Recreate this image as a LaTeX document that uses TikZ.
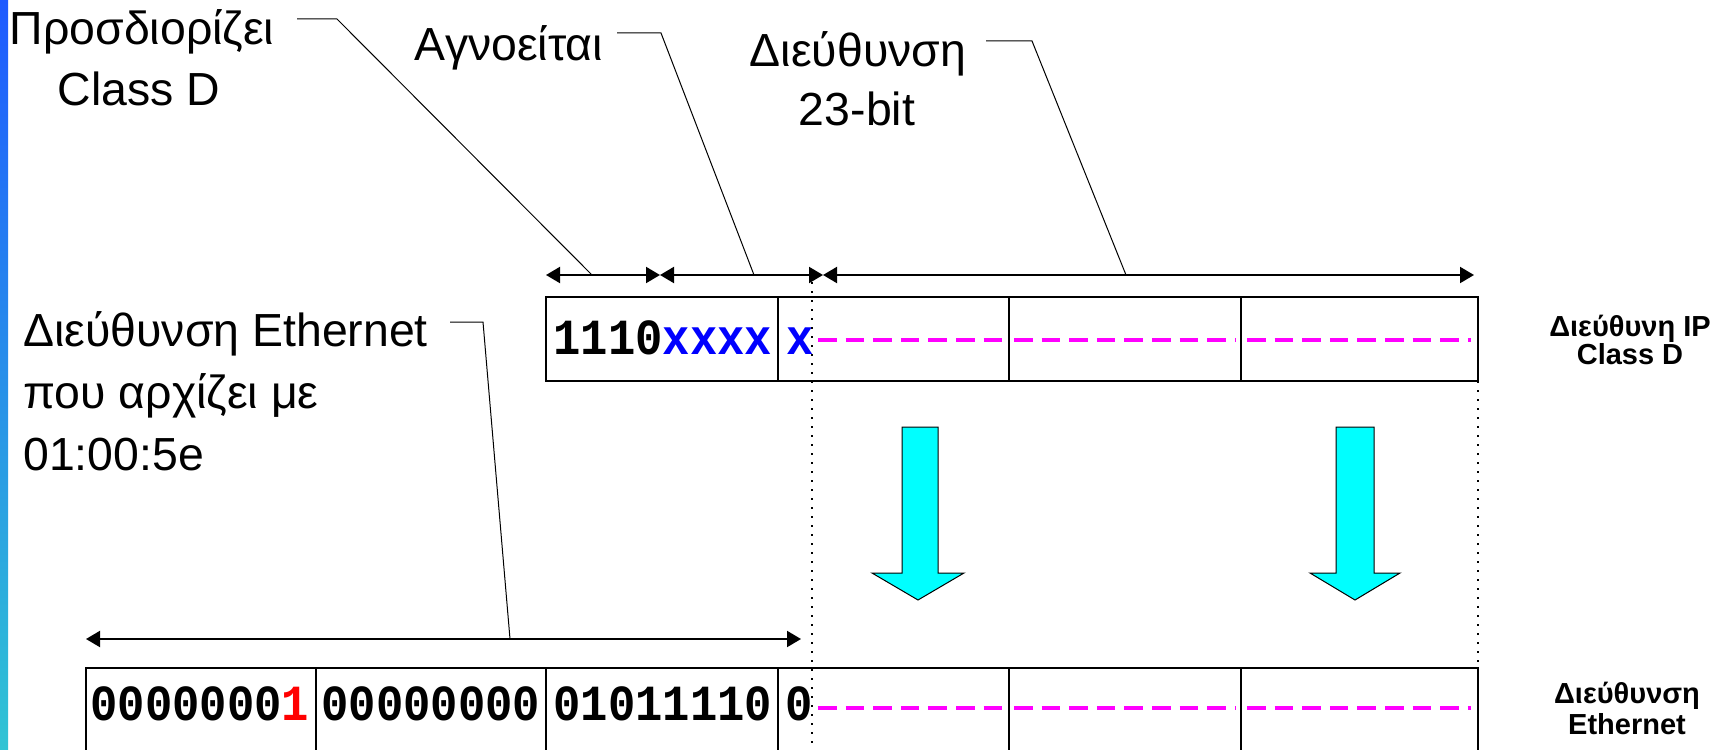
\documentclass[tikz,border=0pt]{standalone}
\usepackage{fontspec}
\setmainfont{Liberation Sans}
\newfontfamily\bitfont[FakeStretch=0.9]{Liberation Mono}
\usetikzlibrary{arrows.meta}
\definecolor{magentaD}{RGB}{255,0,255}
\definecolor{cyanA}{RGB}{0,255,255}
\definecolor{barTop}{RGB}{30,90,255}
\definecolor{barBot}{RGB}{48,196,212}
\begin{document}
\begin{tikzpicture}[x=0.5pt,y=-0.5pt,
  lbl/.style={font=\fontsize{23.2}{27}\selectfont, inner sep=0pt},
  side/.style={font=\fontsize{14.5}{17}\selectfont\bfseries, inner sep=0pt, anchor=base},
  bits/.style={font=\fontsize{25.3}{28}\selectfont\bitfont\bfseries, inner sep=0pt, anchor=base west},
  cell/.style={draw, line width=1.4pt, inner sep=0pt, outer sep=0pt, anchor=north west},
  leader/.style={line width=0.5pt},
  dim/.style={line width=1pt, {Triangle[length=7pt,width=8pt]}-{Triangle[length=7pt,width=8pt]}},
  dashline/.style={magentaD, line width=2.2pt, dash pattern=on 9.3pt off 4.5pt},
  guide/.style={line width=0.8pt, dash pattern=on 0.8pt off 3.7pt},
  bigarrow/.style={draw=black, line width=0.5pt, fill=cyanA}
]
\useasboundingbox (0,0) rectangle (1727,749);
\clip (0,0) rectangle (1727,749);
% left gradient bar
\shade[top color=barTop, bottom color=barBot] (0,0) rectangle (8,749);

% ---------- labels ----------
\node[lbl, anchor=base] (sdA) at (142,45) {Προσδιορίζει};
\node[lbl, anchor=base] (sdB) at (139,105) {Class D};
\node[lbl, anchor=base] (ign) at (509,61) {Αγνοείται};
\node[lbl, anchor=base] (adrA) at (858,67) {Διεύθυνση};
\node[lbl, anchor=base] (adrB) at (857,126) {23-bit};
\node[lbl, anchor=base west] (ethA) at (23,346) {Διεύθυνση Ethernet};
\node[lbl, anchor=base west] (ethB) at (23,408) {που αρχίζει με};
\node[lbl, anchor=base west] (ethC) at (23,470) {01:00:5e};
\node[side] (ipA) at (1630,336) {Διεύθυνη IP};
\node[side] (ipB) at (1630,364) {Class D};
\node[side] (enA) at (1627,703) {Διεύθυνση};
\node[side] (enB) at (1627,734) {Ethernet};

% ---------- top boxes ----------
\node[cell, minimum width=116pt, minimum height=42pt] (t1) at (546,297) {};
\node[cell, minimum width=115.5pt, minimum height=42pt] (t2) at (778,297) {};
\node[cell, minimum width=116pt, minimum height=42pt] (t3) at (1009,297) {};
\node[cell, minimum width=118.5pt, minimum height=42pt] (t4) at (1241,297) {};

% ---------- bottom boxes ----------
\node[cell, minimum width=115pt, minimum height=70pt] (b1) at (86,668) {};
\node[cell, minimum width=115pt, minimum height=70pt] (b2) at (316,668) {};
\node[cell, minimum width=116pt, minimum height=70pt] (b3) at (546,668) {};
\node[cell, minimum width=115.5pt, minimum height=70pt] (b4) at (778,668) {};
\node[cell, minimum width=116pt, minimum height=70pt] (b5) at (1009,668) {};
\node[cell, minimum width=118.5pt, minimum height=70pt] (b6) at (1241,668) {};

% ---------- bits ----------
\node[bits] (ipbits) at (553,354) {1110\textcolor{blue}{xxxx}};
\node[bits] (ipx) at (786,354) {\textcolor{blue}{x}};
\draw[dashline] (818,340) -- (1002,340);
\draw[dashline] (1014,340) -- (1236,340);
\draw[dashline] (1247,340) -- (1471,340);

\node[bits] (e1) at (90,720) {0000000\textcolor{red}{1}};
\node[bits] (e2) at (321,720) {00000000};
\node[bits] (e3) at (553,720) {01011110};
\node[bits] (e4) at (785,720) {0};
\draw[dashline] (818,708) -- (1002,708);
\draw[dashline] (1014,708) -- (1236,708);
\draw[dashline] (1247,708) -- (1471,708);

% ---------- guides ----------
\coordinate (g1a) at (812,282);
\coordinate (g1b) at (812,749);
\draw[guide] (g1a) -- (g1b);
\draw[guide] (t4.south east) -- (b6.north east);

% ---------- dimension arrows ----------
\coordinate (d0) at (546,275);
\coordinate (d1) at (660,275);
\coordinate (d2) at (823,275);
\coordinate (d3) at (1474,275);
\draw[dim] (d0) -- (d1);
\draw[dim] (d1) -- (d2);
\draw[dim] (d2) -- (d3);
\coordinate (e0) at (86,639);
\coordinate (e9) at (801,639);
\draw[dim] (e0) -- (e9);

% ---------- leaders ----------
\coordinate (l1a) at (297,19);
\coordinate (l1b) at (337,19);
\coordinate (l1c) at (592,275);
\draw[leader] (l1a) -- (l1b) -- (l1c);
\coordinate (l2a) at (617,33);
\coordinate (l2b) at (661,33);
\coordinate (l2c) at (754,275);
\draw[leader] (l2a) -- (l2b) -- (l2c);
\coordinate (l3a) at (986,41);
\coordinate (l3b) at (1032,41);
\coordinate (l3c) at (1126,275);
\draw[leader] (l3a) -- (l3b) -- (l3c);
\coordinate (l4a) at (450,322);
\coordinate (l4b) at (483,322);
\coordinate (l4c) at (510,639);
\draw[leader] (l4a) -- (l4b) -- (l4c);

% ---------- big cyan arrows ----------
\draw[bigarrow] (902,427) -- (938,427) -- (938,573) -- (964,573) -- (918,600) -- (872,573) -- (902,573) -- cycle;
\draw[bigarrow] (1336,427) -- (1374,427) -- (1374,573) -- (1400,573) -- (1355,600) -- (1310,573) -- (1336,573) -- cycle;
\end{tikzpicture}
\end{document}
